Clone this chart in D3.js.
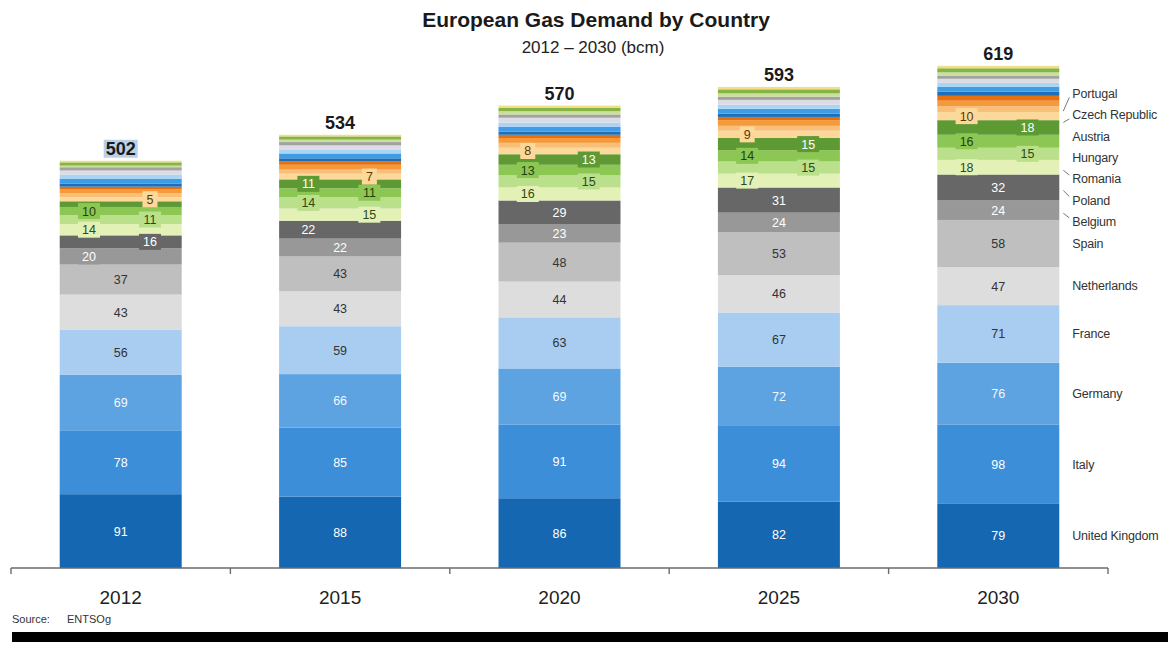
<!DOCTYPE html>
<html>
<head>
<meta charset="utf-8">
<script src="https://cdn.jsdelivr.net/npm/d3@7"></script>
<style>
  body { margin: 0; background: #fff; }
  svg { display: block; font-family: "Liberation Sans", Arial, sans-serif; }
</style>
</head>
<body>
<div id="chart"></div>
<script>
// values in bcm
const years = ["2012", "2015", "2020", "2025", "2030"];
const totals = [502, 534, 570, 593, 619];

const countries = [
  "United Kingdom", "Italy", "Germany", "France", "Netherlands", "Spain",
  "Belgium", "Poland", "Romania", "Hungary", "Austria", "Czech Republic", "Portugal"
];
const ukDemand = [91, 88, 86, 82, 79];
const italyDemand = [78, 85, 91, 94, 98];
const germanyDemand = [69, 66, 69, 72, 76];
const franceDemand = [56, 59, 63, 67, 71];
const netherlandsDemand = [43, 43, 44, 46, 47];
const spainDemand = [37, 43, 48, 53, 58];
const belgiumDemand = [20, 22, 23, 24, 24];
const polandDemand = [16, 22, 29, 31, 32];
const romaniaDemand = [14, 15, 16, 17, 18];
const hungaryDemand = [11, 14, 15, 15, 15];
const austriaDemand = [10, 11, 13, 14, 16];
const czechDemand = [7, 11, 13, 15, 18];
const portugalDemand = [5, 7, 8, 9, 10];

// remaining smaller countries, stacked on top without labels
const otherBands = ["Other 1", "Other 2", "Other 3", "Other 4", "Other 5", "Other 6",
  "Other 7", "Other 8", "Other 9", "Other 10", "Other 11"];
const otherDemand = [
  [5, 5, 6, 6, 7],
  [5, 6, 6, 7, 7],
  [3, 4, 4, 4, 6],
  [4, 4, 4, 4, 5],
  [6, 6, 6, 6, 6],
  [5, 5, 5, 5, 5],
  [5, 5, 6, 6, 5],
  [4, 4, 4, 4, 4],
  [2, 3, 4, 4, 4],
  [4, 4, 4, 5, 5],
  [2, 2, 3, 3, 3]
];

const countryDemand = [ukDemand, italyDemand, germanyDemand, franceDemand, netherlandsDemand,
  spainDemand, belgiumDemand, polandDemand, romaniaDemand, hungaryDemand, austriaDemand,
  czechDemand, portugalDemand];

const unlabelled = [["Czech Republic", "2012"]];

const colors = {
  "United Kingdom": "#1667b1", "Italy": "#3b8ed7", "Germany": "#5da2e1", "France": "#a8cdf0",
  "Netherlands": "#dddddd", "Spain": "#bfbfbf", "Belgium": "#989898", "Poland": "#676767",
  "Romania": "#e3f1b6", "Hungary": "#bbe08c", "Austria": "#8cc653", "Czech Republic": "#5e9a33",
  "Portugal": "#fcd99a",
  "Other 1": "#f9bf79", "Other 2": "#f59a3b", "Other 3": "#e7700e", "Other 4": "#1e6fb7",
  "Other 5": "#3f9de6", "Other 6": "#a9d4f5", "Other 7": "#dcdce4", "Other 8": "#a2a2a2",
  "Other 9": "#c8e09a", "Other 10": "#88b446", "Other 11": "#f0df86"
};
const textColors = {
  "United Kingdom": "#fff", "Italy": "#fff", "Germany": "#f4f8fc", "France": "#333",
  "Netherlands": "#333", "Spain": "#333", "Belgium": "#fff", "Poland": "#fff",
  "Romania": "#2f4a12", "Hungary": "#2f4a12", "Austria": "#24420c", "Czech Republic": "#fff",
  "Portugal": "#5a3a05"
};

const keys = countries.concat(otherBands);
const table = years.map((yr, i) => {
  const row = { year: yr };
  countries.forEach((c, j) => { row[c] = countryDemand[j][i]; });
  otherBands.forEach((c, j) => { row[c] = otherDemand[j][i]; });
  return row;
});

const width = 1168, height = 655;
const svg = d3.select("#chart").append("svg").attr("width", width).attr("height", height);

const x = d3.scaleBand().domain(years).range([11, 1108]).paddingInner(0.444).paddingOuter(0.222);
const y = d3.scaleLinear().domain([0, 620]).range([568, 65]);

const series = d3.stack().keys(keys)(table);

// title
svg.append("text").attr("x", 596).attr("y", 27).attr("text-anchor", "middle")
  .style("font-size", "21px").style("font-weight", "bold").style("fill", "#1a1a1a")
  .text("European Gas Demand by Country");
svg.append("text").attr("x", 593).attr("y", 53).attr("text-anchor", "middle")
  .style("font-size", "17px").style("fill", "#222")
  .text("2012 \u2013 2030 (bcm)");

// bars
const layers = svg.append("g").selectAll("g").data(series).join("g")
  .attr("fill", (d) => colors[d.key]);
layers.selectAll("rect").data((d) => d).join("rect")
  .attr("x", (d) => x(d.data.year))
  .attr("width", x.bandwidth())
  .attr("y", (d) => y(d[1]))
  .attr("height", (d) => y(d[0]) - y(d[1]));

// segment labels: thin segments get a boxed label pushed left / right alternately
const labelG = svg.append("g").style("font-size", "12.5px");
years.forEach((yr, i) => {
  let side = 0;
  let prevCy = null, prevCentered = false;
  countries.forEach((c, j) => {
    if (unlabelled.some((u) => u[0] === c && u[1] === yr)) return;
    const seg = series[j][i];
    const v = seg[1] - seg[0];
    const cy = (y(seg[0]) + y(seg[1])) / 2;
    const x0 = x(yr), bw = x.bandwidth();
    let cx = x0 + bw / 2;
    const crowded = prevCentered && prevCy - cy < 18;
    const boxed = v < 21 || crowded;
    if (boxed) {
      cx = side % 2 === 0 ? x0 + bw * 0.24 : x0 + bw * 0.74;
      side++;
      const w = String(v).length * 7 + 8;
      labelG.append("rect").attr("x", cx - w / 2).attr("y", cy - 8)
        .attr("width", w).attr("height", 16).attr("fill", colors[c]);
    }
    prevCy = cy;
    prevCentered = !boxed;
    labelG.append("text").attr("x", cx).attr("y", cy).attr("dy", "0.36em")
      .attr("text-anchor", "middle").style("fill", textColors[c]).text(v);
  });
});

// totals above bars
const firstTotal = svg.append("rect").attr("fill", "#b9d1e8");
const totalText = svg.append("g").selectAll("text").data(years).join("text")
  .attr("x", (d) => x(d) + x.bandwidth() / 2)
  .attr("y", (d, i) => y(totals[i]) - 6)
  .attr("text-anchor", "middle")
  .style("font-size", "18px").style("font-weight", "bold").style("fill", "#1a1a1a")
  .text((d, i) => totals[i]);
const bb = totalText.node().getBBox();
firstTotal.attr("x", bb.x - 2).attr("y", bb.y + 1).attr("width", bb.width + 4).attr("height", bb.height - 2);

// x axis with ticks between the bars
const axisY = y(0);
const axisG = svg.append("g").attr("stroke", "#6b6b6b").attr("stroke-width", 1.4);
axisG.append("line").attr("x1", x.range()[0]).attr("x2", x.range()[1])
  .attr("y1", axisY).attr("y2", axisY);
d3.range(years.length + 1).forEach((k) => {
  const tx = x.range()[0] + k * x.step();
  axisG.append("line").attr("x1", tx).attr("x2", tx).attr("y1", axisY).attr("y2", axisY + 6);
});
svg.append("g").selectAll("text").data(years).join("text")
  .attr("x", (d) => x(d) + x.bandwidth() / 2).attr("y", 604)
  .attr("text-anchor", "middle").style("font-size", "19px").style("fill", "#222")
  .text((d) => d);

// legend beside the 2030 bar
const last = years.length - 1;
const lx = x(years[last]) + x.bandwidth();
const items = countries.map((c, j) => {
  const seg = series[j][last];
  return { name: c, target: (y(seg[0]) + y(seg[1])) / 2 };
});
const gap = 21.4;
// simple cluster dodging, bottom item first
let clusters = items.map((it) => ({ items: [it], mean: it.target }));
let merged = true;
while (merged) {
  merged = false;
  for (let k = 0; k < clusters.length - 1; k++) {
    const a = clusters[k], b = clusters[k + 1];
    const aTop = a.mean - (a.items.length - 1) * gap / 2;
    const bBottom = b.mean + (b.items.length - 1) * gap / 2;
    if (aTop - bBottom < gap) {
      const all = a.items.concat(b.items);
      clusters.splice(k, 2, { items: all, mean: d3.mean(all, (d) => d.target) });
      merged = true;
      break;
    }
  }
}
clusters.forEach((cl) => {
  cl.items.forEach((it, k) => {
    it.y = cl.mean + ((cl.items.length - 1) / 2 - k) * gap;
  });
});
const legendG = svg.append("g");
items.forEach((it) => {
  legendG.append("text").attr("x", lx + 13).attr("y", it.y).attr("dy", "0.35em")
    .style("font-size", "12.5px").style("fill", "#333").style("letter-spacing", "-0.2px")
    .text(it.name);
  if (Math.abs(it.y - it.target) > 10) {
    const up = it.y < it.target;
    legendG.append("line").attr("stroke", "#555").attr("stroke-width", 0.8)
      .attr("x1", lx + 4).attr("y1", it.target + (up ? -5 : 3))
      .attr("x2", lx + 10).attr("y2", it.y + (up ? 4 : -4));
  }
});

// source and footer bar
svg.append("text").attr("x", 12).attr("y", 623).style("font-size", "11px").style("fill", "#333")
  .text("Source:");
svg.append("text").attr("x", 67).attr("y", 623).style("font-size", "11px").style("fill", "#333")
  .text("ENTSOg");
svg.append("rect").attr("x", 12).attr("y", 632).attr("width", width - 12).attr("height", 10)
  .attr("fill", "#000");
</script>
</body>
</html>
